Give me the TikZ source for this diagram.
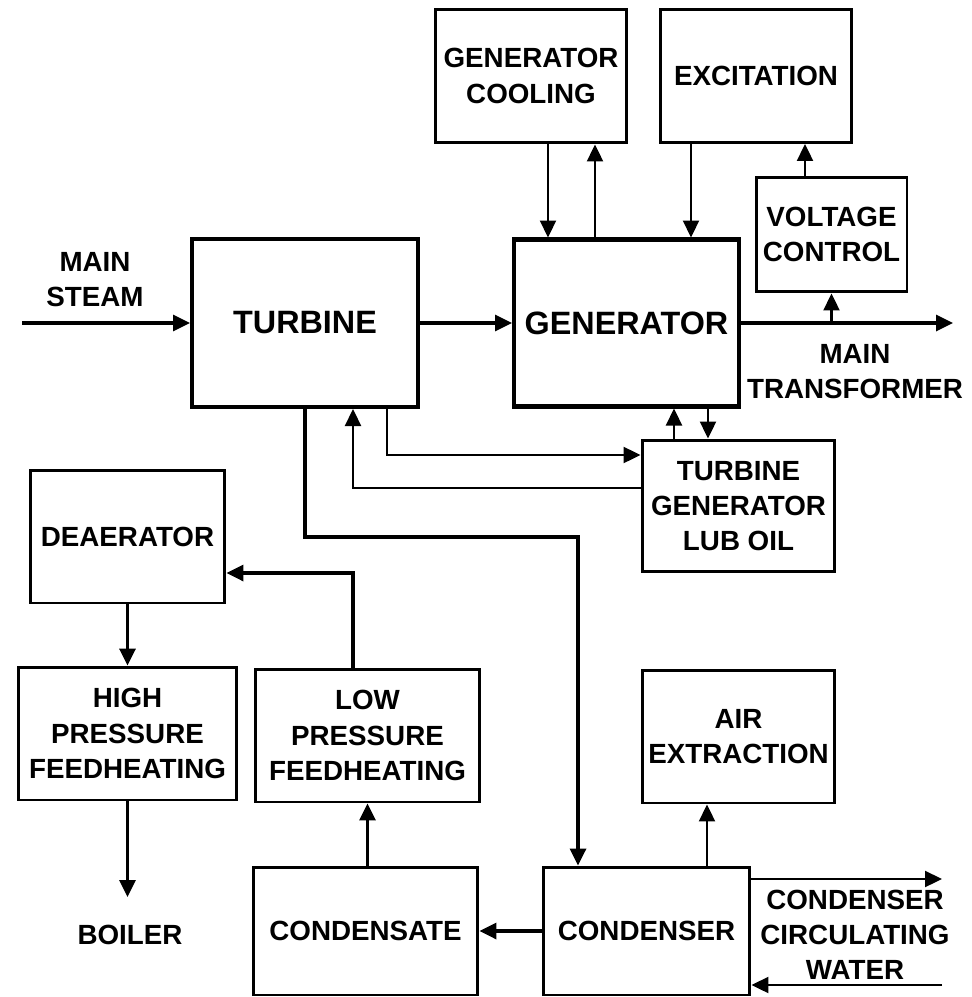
\documentclass[tikz,border=0pt]{standalone}
\usepackage{fontspec}
\setmainfont{Liberation Sans}
\usetikzlibrary{arrows.meta}

\tikzset{
  blk/.style={draw, line width=1.7pt, inner sep=0pt, align=center,
    font=\bfseries\fontsize{15.8}{20}\selectfont},
  bigblk/.style={blk, line width=2.3pt, font=\bfseries\fontsize{18.4}{22}\selectfont},
  lbl/.style={align=center, font=\bfseries\fontsize{15.8}{20}\selectfont},
  flow/.style={line width=1.3pt},
  heavy/.style={line width=1.9pt}
}

\begin{document}
\begin{tikzpicture}[x=0.02cm, y=-0.02cm, >={Triangle[length=0.34cm,width=0.32cm]}]
\useasboundingbox (0,0) rectangle (971,997);

\node[blk, minimum width=3.84cm, minimum height=2.68cm] (gencool) at (531,76) {GENERATOR\\COOLING};
\node[blk, minimum width=3.84cm, minimum height=2.66cm] (excit) at (756,76) {EXCITATION};
\node[blk, minimum width=3.02cm, minimum height=2.30cm] (volt) at (831.5,234.5) {VOLTAGE\\CONTROL};
\node[bigblk, minimum width=4.52cm, minimum height=3.36cm] (turb) at (305,323) {TURBINE};
\node[bigblk, minimum width=4.50cm, minimum height=3.34cm] (gen) at (626.5,323) {GENERATOR};
\node[blk, minimum width=3.86cm, minimum height=2.64cm] (lub) at (738.5,506) {TURBINE\\GENERATOR\\LUB OIL};
\node[blk, minimum width=3.90cm, minimum height=2.66cm] (deaer) at (127.5,536.5) {DEAERATOR};
\node[blk, minimum width=4.38cm, minimum height=2.66cm] (hp) at (127.5,733.5) {HIGH\\PRESSURE\\FEEDHEATING};
\node[blk, minimum width=4.50cm, minimum height=2.66cm] (lp) at (367.5,735.5) {LOW\\PRESSURE\\FEEDHEATING};
\node[blk, minimum width=3.86cm, minimum height=2.66cm] (air) at (738.5,736.5) {AIR\\EXTRACTION};
\node[blk, minimum width=4.50cm, minimum height=2.56cm] (cdst) at (365.5,931) {CONDENSATE};
\node[blk, minimum width=4.14cm, minimum height=2.56cm] (cdsr) at (646.5,931) {CONDENSER};

\node[lbl] (steamlbl) at (95,280) {MAIN\\STEAM};
\node[lbl] (xfmrlbl) at (855,372) {MAIN\\TRANSFORMER};
\node[lbl] (boilerlbl) at (130,935) {BOILER};
\node[lbl] (cwlbl) at (855,935) {CONDENSER\\CIRCULATING\\WATER};

\coordinate (steam) at (22,323);
\coordinate (xfmr) at (953,323);
\coordinate (boiler) at (127.5,897);
\coordinate (cwout) at (942,879);
\coordinate (cwin) at (942,985);
\coordinate (coolin) at (548,0);
\coordinate (coolout) at (595,0);
\coordinate (excin) at (691,0);
\coordinate (voltout) at (805,0);
\coordinate (lubout) at (674,0);
\coordinate (lubin) at (708,0);
\coordinate (airout) at (707,0);
\coordinate (j1) at (387,455);
\coordinate (j2) at (353,488);
\coordinate (j3) at (305,537);
\coordinate (j4) at (578,537);
\coordinate (j5) at (353,573);

\draw[->, heavy] (steam) -- (turb);
\draw[->, heavy] (turb) -- (gen);
\draw[->, heavy] (gen.east |- xfmr) -- (xfmr);
\draw[->, flow] (volt.south |- xfmr) -- (volt.south);
\draw[->, flow] (volt.north -| voltout) -- (excit.south -| voltout);
\draw[->, flow] (excit.south -| excin) -- (gen.north -| excin);
\draw[->, flow] (gencool.south -| coolin) -- (gen.north -| coolin);
\draw[->, flow] (gen.north -| coolout) -- (gencool.south -| coolout);
\draw[->, flow] (lub.north -| lubout) -- (gen.south -| lubout);
\draw[->, flow] (gen.south -| lubin) -- (lub.north -| lubin);
\draw[->, flow] (turb.south -| j1) -- (j1) -- (lub.west |- j1);
\draw[->, flow] (lub.west |- j2) -- (j2) -- (turb.south -| j2);
\draw[->, heavy] (turb.south) -- (j3) -- (j4) -- (cdsr.north -| j4);
\draw[->, flow] (cdsr.north -| airout) -- (air.south -| airout);
\draw[->, heavy] (cdsr) -- (cdst);
\draw[->, heavy] (cdst.north -| lp.south) -- (lp.south);
\draw[->, heavy] (lp.north -| j5) -- (j5) -- (deaer.east |- j5);
\draw[->, heavy] (deaer.south) -- (hp.north);
\draw[->, heavy] (hp.south) -- (boiler);
\draw[->, flow] (cdsr.east |- cwout) -- (cwout);
\draw[->, flow] (cwin) -- (cdsr.east |- cwin);
\end{tikzpicture}
\end{document}
